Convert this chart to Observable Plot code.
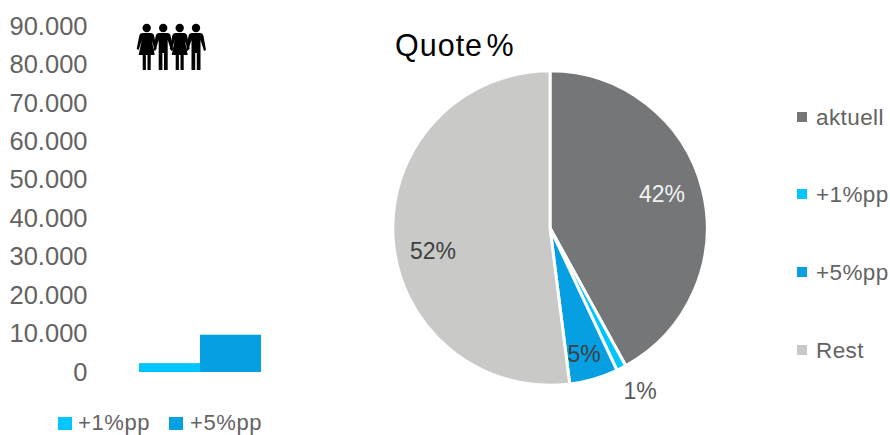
<!DOCTYPE html>
<html>
<head>
<meta charset="utf-8">
<script src="https://cdn.jsdelivr.net/npm/d3@7"></script>
<script src="https://cdn.jsdelivr.net/npm/@observablehq/plot@0.6"></script>
<style>
  html, body { margin: 0; padding: 0; background: #fff; overflow: hidden; }
  svg { display: block; }
</style>
</head>
<body>
<div id="chart"></div>
<script>
// Additional people per scenario
const barCategories = ["+1%pp", "+5%pp"];
const barValues = [2300, 9700];
const yTicks = [0, 10000, 20000, 30000, 40000, 50000, 60000, 70000, 80000, 90000];

// Share of the quota
const pieCategories = ["aktuell", "+1%pp", "+5%pp", "Rest"];
const pieValues = [42, 1, 5, 52];
const pieColors = ["#757677", "#00C6FF", "#059FE2", "#C9C9C8"];
const pieLabelColors = ["#f2f2f2", "#595959", "#404040", "#404040"];
const pieTitle = "Quote %";

const font = "'Liberation Sans', Arial, sans-serif";
const textColor = "#636363";
const germanNumber = d3.formatLocale({decimal: ",", thousands: ".", grouping: [3], currency: ["", "€"]}).format(",d");

const svgEl = (name, attrs, parent) => {
  const el = document.createElementNS("http://www.w3.org/2000/svg", name);
  for (const k in attrs) el.setAttribute(k, attrs[k]);
  if (parent) parent.appendChild(el);
  return el;
};

// Pie with percentage labels, title and vertical legend
function pieMark(index, {color}) {
  const g = svgEl("g", {});
  const cx = 550, cy = 228, r = 157.2;
  const slices = d3.pie().sort(null)(pieValues);
  const arc = d3.arc().innerRadius(0).outerRadius(r);
  slices.forEach((s, i) => {
    svgEl("path", {
      d: arc(s), transform: `translate(${cx},${cy})`,
      fill: color(pieCategories[i]), stroke: "#fff", "stroke-width": 3
    }, g);
  });
  const labelPos = [[662, 194], [640, 391], [584, 354], [433, 251]];
  slices.forEach((s, i) => {
    const t = svgEl("text", {
      x: labelPos[i][0], y: labelPos[i][1], "text-anchor": "middle", "dominant-baseline": "central",
      fill: pieLabelColors[i], "font-size": 23, "font-family": font
    }, g);
    t.textContent = pieValues[i] + "%";
  });
  const title = svgEl("text", {
    x: 395, y: 56, fill: "#000", "font-size": 30.5, "font-family": font,
    "text-anchor": "start", "letter-spacing": 1, "word-spacing": -6
  }, g);
  title.textContent = pieTitle;
  const legendY = [117, 194, 272, 350];
  pieCategories.forEach((c, i) => {
    svgEl("rect", {x: 797, y: legendY[i] - 5, width: 10, height: 10, fill: color(c)}, g);
    const t = svgEl("text", {
      x: 816, y: legendY[i], "dominant-baseline": "central", "text-anchor": "start",
      fill: textColor, "font-size": 22.5, "letter-spacing": 0.4, "font-family": font
    }, g);
    t.textContent = c;
  });
  return g;
}

// Legend underneath the bars
function barLegend(index, {color}) {
  const g = svgEl("g", {});
  const swatchX = [58, 169], labelX = [78, 190];
  barCategories.forEach((c, i) => {
    svgEl("rect", {x: swatchX[i], y: 417, width: 14, height: 13, fill: color(c)}, g);
    const t = svgEl("text", {
      x: labelX[i], y: 422, "dominant-baseline": "central", "text-anchor": "start",
      fill: textColor, "font-size": 22, "letter-spacing": 0.6, "font-family": font
    }, g);
    t.textContent = c;
  });
  return g;
}

// Group of four figures, alternating woman and man
function peopleIcon() {
  const g = svgEl("g", {fill: "#000", stroke: "none"});
  const centers = [146.7, 163.2, 179.7, 196];
  const woman = "M-4,-18 L4,-18 C6,-18 7,-17 7.5,-15 L10,-2 L8,-1 L5,-11 L8,4 L4,4 L4,19 L0.8,19 L0.8,4 L-0.8,4 L-0.8,19 L-4,19 L-4,4 L-8,4 L-5,-11 L-8,-1 L-10,-2 L-7.5,-15 C-7,-17 -6,-18 -4,-18 Z";
  const man = "M-4,-18 L4,-18 C6,-18 7,-17 7.5,-15 L10,-1 L8,0 L4.5,-11 L4.5,19 L0.8,19 L0.8,2 L-0.8,2 L-0.8,19 L-4.5,19 L-4.5,-11 L-8,0 L-10,-1 L-7.5,-15 C-7,-17 -6,-18 -4,-18 Z";
  centers.forEach((x, i) => {
    const p = svgEl("g", {transform: `translate(${x},51)`}, g);
    svgEl("circle", {cx: 0, cy: -23, r: 4.2}, p);
    svgEl("path", {d: i % 2 === 0 ? woman : man}, p);
  });
  return g;
}

const barData = barCategories.map((category, i) => ({category, value: barValues[i]}));

const chart = Plot.plot({
  width: 890,
  height: 435,
  marginLeft: 87,
  marginTop: 0,
  marginBottom: 0,
  marginRight: 0,
  style: {background: "#fff", fontFamily: font},
  x: {type: "band", domain: barCategories, range: [139, 261], padding: 0, axis: null},
  y: {domain: [0, 90000], range: [372, 26], axis: null},
  color: {domain: pieCategories, range: pieColors},
  marks: [
    Plot.axisY({
      ticks: yTicks, tickFormat: germanNumber, tickSize: 0, tickPadding: 0, label: null,
      fontSize: 25.5, color: textColor, fontFamily: font
    }),
    Plot.barY(barData, {x: "category", y: "value", fill: "category"}),
    peopleIcon,
    barLegend,
    pieMark
  ]
});
document.getElementById("chart").appendChild(chart);
</script>
</body>
</html>
